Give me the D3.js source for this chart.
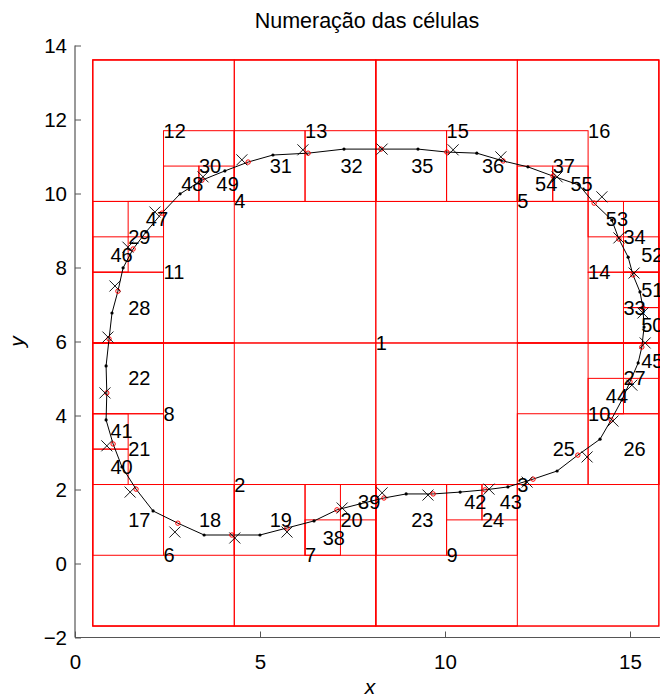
<!DOCTYPE html>
<html>
<head>
<meta charset="utf-8">
<script src="https://cdn.jsdelivr.net/npm/d3@7"></script>
<style>
  html, body { margin: 0; padding: 0; background: #fff; }
  svg { display: block; }
  text { font-family: "Liberation Sans", Arial, Helvetica, sans-serif; }
</style>
</head>
<body>
<svg id="chart" width="660" height="700"></svg>
<script>
// ---------------- DATA ----------------
const chartTitle = "Numeração das células";
const xTicks = [0, 5, 10, 15];
const yTicks = [-2, 0, 2, 4, 6, 8, 10, 12, 14];

// root cell (xmin, xmax, ymin, ymax)
const rootBox = [0.48, 15.78, -1.69, 13.61];

// quadtree cells: id, parent id, quadrant within parent
const cellIds     = [1, 2, 3, 4, 5, 6, 7, 8, 9, 10, 11, 12, 13, 14, 15, 16,
                     17, 18, 19, 20, 21, 22, 23, 24, 25, 26, 27, 28, 29, 30, 31, 32, 33, 34, 35, 36, 37,
                     38, 39, 40, 41, 42, 43, 44, 45, 46, 47, 48, 49, 50, 51, 52, 53, 54, 55];
const cellParents = [0, 1, 1, 1, 1, 2, 2, 2, 3, 3, 4, 4, 4, 5, 5, 5,
                     6, 6, 7, 7, 8, 8, 9, 9, 10, 10, 10, 11, 11, 12, 13, 13, 14, 14, 15, 15, 16,
                     20, 20, 21, 21, 24, 24, 27, 27, 29, 29, 30, 30, 33, 33, 34, 34, 37, 37];
const cellQuads   = ["", "LL", "LR", "UL", "UR", "LL", "LR", "UL", "LL", "UR", "LL", "UL", "UR", "LR", "UL", "UR",
                     "UL", "UR", "UL", "UR", "LL", "UL", "UL", "UR", "LL", "LR", "UR", "LL", "UL", "LR", "LL", "LR", "LR", "UR", "LL", "LR", "LL",
                     "LL", "UR", "LL", "UL", "UL", "UR", "LL", "UR", "LL", "UR", "LL", "LR", "LR", "UR", "LR", "UL", "LL", "LR"];

// curve vertices (closed), alternating: point type "d" = dot, "o" = red circle
const curveX = [4.24, 5.00, 5.73, 6.46, 7.08, 7.70, 8.35, 8.95, 9.68, 10.41, 11.08, 11.70, 12.38, 13.03, 13.59, 14.19,
                14.49, 14.78, 15.00, 15.22, 15.32, 15.38, 15.35, 15.27, 15.08, 14.95, 14.70, 14.51, 14.03, 13.62,
                12.92, 12.24, 11.57, 10.86, 10.05, 9.27, 8.27, 7.27, 6.30, 5.35, 4.68, 4.05, 3.43, 2.84, 2.35, 1.92,
                1.57, 1.30, 1.16, 1.00, 0.92, 0.84, 0.86, 0.84, 1.03, 1.27, 1.65, 2.11, 2.78, 3.49];
const curveY = [0.77, 0.77, 0.96, 1.15, 1.45, 1.61, 1.77, 1.88, 1.88, 1.93, 1.99, 2.07, 2.28, 2.50, 2.93, 3.36,
                3.88, 4.42, 4.91, 5.42, 5.85, 6.39, 6.91, 7.34, 7.80, 8.28, 8.77, 9.28, 9.74, 10.23,
                10.47, 10.72, 10.88, 11.09, 11.12, 11.20, 11.20, 11.20, 11.09, 11.04, 10.85, 10.61, 10.36, 9.99, 9.47, 8.96,
                8.50, 7.99, 7.36, 6.77, 6.07, 5.34, 4.61, 3.88, 3.23, 2.61, 2.01, 1.42, 1.09, 0.77];
const curveKind = ["o", "d", "o", "d", "o", "d", "o", "d", "o", "d", "o", "d", "o", "d", "o", "d",
                   "o", "d", "o", "d", "o", "d", "o", "d", "o", "d", "o", "d", "o", "d",
                   "o", "d", "o", "d", "o", "d", "o", "d", "o", "d", "o", "d", "o", "d", "o", "d",
                   "o", "d", "o", "d", "o", "d", "o", "d", "o", "d", "o", "d", "o", "d"];

// cross markers
const crossX = [4.32, 5.73, 7.22, 8.30, 9.54, 11.19, 12.22, 13.84, 14.54, 15.05, 15.41, 15.35, 15.11, 14.70, 14.24,
                13.03, 11.51, 10.22, 8.30, 6.16, 4.51, 3.46, 2.16, 1.43, 1.08, 0.89, 0.81, 0.86, 1.49, 2.70];
const crossY = [0.69, 0.85, 1.50, 1.91, 1.85, 2.01, 2.20, 2.88, 3.85, 4.82, 5.96, 6.77, 7.85, 8.80, 9.91,
                10.45, 10.99, 11.18, 11.20, 11.18, 10.91, 10.45, 9.50, 8.55, 7.50, 6.12, 4.61, 3.18, 1.93, 0.85];

// ---------------- CHART ----------------
const svg = d3.select("#chart");
const x = d3.scaleLinear().domain([0, 15.8]).range([75, 75 + 15.8 * 37]);
const y = d3.scaleLinear().domain([-2, 14]).range([637.5, 637.5 - 16 * 37]);

// build cells
const cells = new Map();
cellIds.forEach((id, i) => {
  let box;
  if (cellParents[i] === 0) {
    box = rootBox.slice();
  } else {
    const p = cells.get(cellParents[i]).box;
    const mx = (p[0] + p[1]) / 2, my = (p[2] + p[3]) / 2;
    const q = cellQuads[i];
    const bx = q[1] === "L" ? [p[0], mx] : [mx, p[1]];
    const by = q[0] === "L" ? [p[2], my] : [my, p[3]];
    box = [bx[0], bx[1], by[0], by[1]];
  }
  cells.set(id, { id, box });
});
const cellList = Array.from(cells.values());

// axes
const axisColor = "#555";
const gx = svg.append("g").attr("transform", `translate(0,${y(-2)})`)
  .call(d3.axisBottom(x).tickValues(xTicks).tickSize(-6).tickPadding(17).tickFormat(d3.format("d")));
const gy = svg.append("g").attr("transform", `translate(${x(0)},0)`)
  .call(d3.axisLeft(y).tickValues(yTicks).tickSize(-6).tickPadding(8)
    .tickFormat(d => d < 0 ? "\u2212" + Math.abs(d) : String(d)));
[gx, gy].forEach(g => {
  g.selectAll(".domain").attr("stroke", axisColor).attr("stroke-width", 1.2);
  g.selectAll(".tick line").attr("stroke", axisColor);
  g.selectAll(".tick text").attr("fill", "#000").style("font-size", "20.5px")
    .style("font-family", '"Liberation Sans", Arial, sans-serif');
});
gx.select(".domain").attr("d", `M${x(0)},0H660`);
gy.select(".domain").attr("d", `M0,${y(-2)}V${y(14)}`);

// cell rectangles
svg.append("g").selectAll("rect").data(cellList).join("rect")
  .attr("x", d => x(d.box[0]))
  .attr("y", d => y(d.box[3]))
  .attr("width", d => x(d.box[1]) - x(d.box[0]))
  .attr("height", d => y(d.box[2]) - y(d.box[3]))
  .attr("fill", "none")
  .attr("stroke", "#ff0000")
  .attr("stroke-width", 1);

// curve
const pts = curveX.map((v, i) => ({ x: v, y: curveY[i], k: curveKind[i] }));
svg.append("path")
  .datum(pts)
  .attr("d", d3.line().x(d => x(d.x)).y(d => y(d.y)).curve(d3.curveLinearClosed))
  .attr("fill", "none").attr("stroke", "#000").attr("stroke-width", 1);

svg.append("g").selectAll("circle.dot").data(pts.filter(d => d.k === "d")).join("circle")
  .attr("class", "dot")
  .attr("cx", d => x(d.x)).attr("cy", d => y(d.y)).attr("r", 1.6).attr("fill", "#000");

svg.append("g").selectAll("circle.red").data(pts.filter(d => d.k === "o")).join("circle")
  .attr("class", "red")
  .attr("cx", d => x(d.x)).attr("cy", d => y(d.y)).attr("r", 2.2)
  .attr("fill", "none").attr("stroke", "#ff0000").attr("stroke-width", 1);

const crosses = crossX.map((v, i) => ({ x: v, y: crossY[i] }));
const cs = 5.5;
svg.append("g").selectAll("path.cross").data(crosses).join("path")
  .attr("class", "cross")
  .attr("d", d => {
    const cx = x(d.x), cy = y(d.y);
    return `M${cx - cs},${cy - cs}L${cx + cs},${cy + cs}M${cx - cs},${cy + cs}L${cx + cs},${cy - cs}`;
  })
  .attr("stroke", "#000").attr("stroke-width", 0.9).attr("fill", "none");

// cell labels at cell centres
svg.append("g").selectAll("text").data(cellList).join("text")
  .attr("x", d => x((d.box[0] + d.box[1]) / 2))
  .attr("y", d => y((d.box[2] + d.box[3]) / 2))
  .attr("dy", "0.35em")
  .attr("fill", "#000")
  .style("font-size", "20px")
  .text(d => d.id);

// title & axis labels
svg.append("text").attr("x", 367).attr("y", 28).attr("text-anchor", "middle")
  .style("font-size", "21.5px").text(chartTitle);
svg.append("text").attr("x", 370).attr("y", 694).attr("text-anchor", "middle")
  .style("font-size", "21px").style("font-style", "italic").text("x");
svg.append("text").attr("transform", `translate(24,${(y(-2) + y(14)) / 2}) rotate(-90)`)
  .attr("text-anchor", "middle")
  .style("font-size", "21px").style("font-style", "italic").text("y");
</script>
</body>
</html>
